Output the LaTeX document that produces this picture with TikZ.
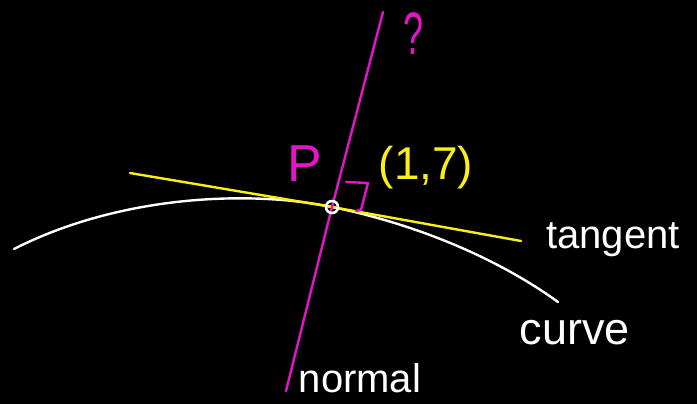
\documentclass[tikz,border=0pt]{standalone}
\usepackage{fontspec}
\setmainfont{Liberation Sans}
\definecolor{mag}{RGB}{230,20,200}
\definecolor{yel}{RGB}{250,240,20}
\begin{document}
\begin{tikzpicture}[x=1pt,y=-1pt,
  lbl/.style={inner sep=0pt, anchor=center},
  ln/.style={line width=2.4pt, line cap=round, line join=round}]
\fill[black] (0,0) rectangle (697,404);
\useasboundingbox (0,0) rectangle (697,404);
\coordinate (P) at (332,207);
\coordinate (cs) at (14,249);
\coordinate (ce) at (558,302);
\coordinate (ts) at (130,173);
\coordinate (te) at (521,241);
\coordinate (ns) at (383,12);
\coordinate (ne) at (286,391);
% curve
\draw[ln, white] (cs) .. controls (120,195) and (250,190) .. (P)
  .. controls (420,225) and (500,260) .. (ce);
% tangent
\draw[ln, yel] (ts) -- (P) -- (te);
% normal
\draw[ln, mag] (ns) -- (P) -- (ne);
% right angle mark
\draw[ln, mag] (346,182) -- (368,183) -- (361,210) -- (356,211);
% point
\draw[white, line width=2.6pt] (P) circle (6);
% labels
\node[lbl, text=mag, font=\fontsize{52}{52}\selectfont] (lp) at (305,164) {P};
\node[lbl, text=mag, font=\fontsize{60}{60}\selectfont, xscale=0.6] (lq) at (414,34) {?};
\node[lbl, text=yel, font=\fontsize{46}{46}\selectfont] (lpt) at (426,168) {(1,7)};
\node[lbl, text=white, font=\fontsize{40}{40}\selectfont] (ltan) at (613,240) {tangent};
\node[lbl, text=white, font=\fontsize{45}{45}\selectfont] (lcur) at (575,333) {curve};
\node[lbl, text=white, font=\fontsize{40}{40}\selectfont] (lnor) at (360,378) {normal};
\end{tikzpicture}
\end{document}
